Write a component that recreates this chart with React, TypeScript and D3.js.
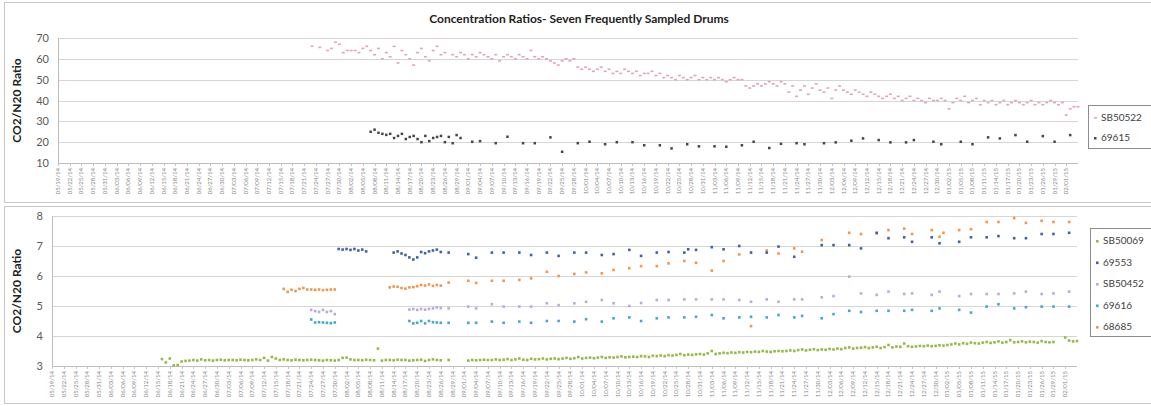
import React, { useRef, useEffect } from "react";
import * as d3 from "d3";

const WIDTH = 1151;
const HEIGHT = 406;
const DAY = 864e5;
const START = Date.UTC(2014, 4, 19); // 05/19/14
const END = Date.UTC(2015, 1, 4);

const title = "Concentration Ratios- Seven Frequently Sampled Drums";
const yTitle = "CO2/N20 Ratio";
const topTicks = [10, 20, 30, 40, 50, 60, 70];
const bottomTicks = [3, 4, 5, 6, 7, 8];

// daily series: first day offset from 05/19/14, then one value per day (null = no sample)
const sb50522Start = 65;
const sb50522 = [
  66, null, 65.5, null, 64, 65, 68, 67, 63, 64,
  64, 64, 63, 65, 66, 64, 62, 65, 60, 63,
  61, 66, 58, 64, 62, 60, 57, 63, 65, 61,
  59, 64, 66, 62, 63, null, 62, 61, 63, 62,
  60, 62, 61, 63, 62, 61, 60, 62, 59, 61,
  62, 61, 60, 62, 61, 60, 64, 61, 60, 61,
  60, 59, 58, 57, 59, 60, 59, 60, 56, 55,
  56, 55, 54, 55, 56, 54, 55, 53, 54, 53,
  55, 54, 53, 54, 52, 53, 53, 54, 52, 53,
  51, 52, 51, 50, 52, 51, 50, 51, 52, 50,
  51, 50, 51, 50, 51, 50, 49, 50, 51, 50,
  50, 47, 46, 47, 48, 47, 48, 49, 48, 47,
  49, 48, 44, 47, 42, 45, 47, 43, 46, 48,
  45, 44, 46, 41, 45, 47, 45, 44, 43, 45,
  44, 43, 42, 44, 43, 42, 41, 42, 43, 41,
  42, 40, 41, 42, 40, 41, 40, 39, 41, 40,
  40, 41, 40, 36, 39, 41, 40, 42, 39, 40,
  41, 38, 40, 39, 40, 38, 39, 40, 38, 39,
  40, 39, 38, 39, 40, 38, 39, 38, 39, 40,
  39, 38, 39, 33, 36, 37, 37,
];

const s69615 = [
  [80, 25], [81, 26], [82, 24.5], [83, 24], [84, 23.5], [85, 24], [86, 22], [87, 23],
  [88, 24], [89, 21.5], [90, 22.5], [91, 23], [92, 21.5], [93, 20], [94, 23], [95, 20.5],
  [96, 22], [97, 22.5], [98, 23], [99, 20], [100, 22.5], [101, 19.5], [102, 23.4], [103, 22],
  [106, 20.2], [108, 20.5], [112, 19.5], [115, 22.6], [119, 19.5], [122, 19.5], [126, 22.3],
  [129, 15.4], [133, 19.5], [136, 20.2], [140, 19], [143, 20], [147, 20], [150, 18.5],
  [154, 18.5], [157, 17], [161, 19], [164, 18], [168, 18], [171, 17.8], [175, 18.5],
  [178, 20.2], [182, 17.2], [185, 19.2], [189, 19.5], [191, 19], [196, 19.5], [199, 19.9],
  [203, 20.7], [206, 21.8], [210, 21], [213, 19.9], [217, 19.9], [219, 21], [224, 20.2],
  [226, 19], [231, 20.2], [234, 19], [238, 22.3], [241, 21.8], [245, 23.4], [248, 20.2],
  [252, 22.9], [255, 20.2], [259, 23.4],
];

const sb50069Start = 28;
const sb50069 = [
  3.23, 3.12, 3.25, 3.02, 3.03, 3.15, 3.17, 3.18, 3.2, 3.18,
  3.22, 3.19, 3.2, 3.18, 3.2, 3.21, 3.19, 3.2, 3.2, 3.19,
  3.21, 3.2, 3.19, 3.2, 3.22, 3.2, 3.27, 3.18, 3.3, 3.25,
  3.2, 3.22, 3.2, 3.19, 3.21, 3.2, 3.19, 3.2, 3.21, 3.2,
  3.19, 3.18, 3.2, 3.19, 3.18, 3.2, 3.27, 3.28, 3.22, 3.2,
  3.2, 3.19, 3.21, 3.2, 3.19, 3.58, 3.18, 3.2, 3.2, 3.19,
  3.21, 3.2, 3.2, 3.18, 3.19, 3.2, 3.21, 3.17, 3.2, 3.22,
  3.2, 3.19, null, 3.2, null, null, null, null, 3.18, 3.2,
  3.19, 3.2, 3.21, 3.2, 3.2, 3.22, 3.2, 3.21, 3.23, 3.2,
  3.22, 3.25, 3.21, 3.2, 3.24, 3.22, 3.23, 3.25, 3.22, 3.24,
  3.25, 3.23, 3.25, 3.27, 3.24, 3.26, 3.3, 3.25, 3.27, 3.28,
  3.26, 3.28, 3.3, 3.27, 3.29, 3.28, 3.3, 3.32, 3.29, 3.3,
  3.31, 3.3, 3.33, 3.32, 3.3, 3.34, 3.33, 3.35, 3.33, 3.36,
  3.35, 3.37, 3.4, 3.36, 3.38, 3.37, 3.39, 3.4, 3.38, 3.42,
  3.5, 3.4, 3.42, 3.44, 3.43, 3.45, 3.44, 3.46, 3.45, 3.47,
  3.46, 3.48, 3.47, 3.5, 3.48, 3.47, 3.49, 3.5, 3.49, 3.5,
  3.52, 3.5, 3.53, 3.55, 3.52, 3.54, 3.56, 3.53, 3.55, 3.54,
  3.57, 3.55, 3.58, 3.56, 3.6, 3.62, 3.58, 3.6, 3.61, 3.63,
  3.6, 3.62, 3.64, 3.6, 3.63, 3.7, 3.62, 3.65, 3.64, 3.75,
  3.66, 3.64, 3.65, 3.67, 3.66, 3.68, 3.66, 3.67, 3.69, 3.68,
  3.7, 3.72, 3.75, 3.72, 3.76, 3.74, 3.78, 3.76, 3.75, 3.78,
  3.8, 3.77, 3.79, 3.82, 3.78, 3.8, 3.86, 3.79, 3.8, 3.82,
  3.79, 3.81, 3.8, 3.78, 3.83, 3.8, 3.79, 3.8, null, null,
  3.95, 3.85, 3.82, 3.83,
];

const s69553 = [
  [73, 6.9], [74, 6.88], [75, 6.9], [76, 6.87], [77, 6.9], [78, 6.85], [79, 6.88], [80, 6.82],
  [87, 6.78], [88, 6.82], [89, 6.75], [90, 6.7], [91, 6.62], [92, 6.55], [93, 6.62], [94, 6.8],
  [95, 6.76], [96, 6.82], [97, 6.85], [98, 6.88], [99, 6.8],
  [101, 6.78], [106, 6.73], [108, 6.61], [112, 6.78], [115, 6.78], [119, 6.78], [122, 6.7],
  [126, 6.78], [129, 6.67], [133, 6.78], [136, 6.78], [140, 6.7], [143, 6.73], [147, 6.87],
  [150, 6.67], [154, 6.78], [157, 6.8], [161, 6.78], [162, 6.89], [164, 6.87], [168, 6.96],
  [171, 6.89], [175, 7.0], [178, 6.78], [182, 6.78], [185, 6.98], [189, 6.64], [196, 7.03],
  [199, 7.03], [203, 7.03], [206, 6.92], [210, 7.44], [213, 7.26], [217, 7.29], [219, 7.14],
  [224, 7.29], [226, 7.09], [231, 7.14], [234, 7.29], [238, 7.29], [241, 7.33], [245, 7.26],
  [248, 7.26], [252, 7.4], [255, 7.4], [259, 7.44],
];

const sb50452 = [
  [66, 4.87], [67, 4.83], [68, 4.8], [69, 4.87], [70, 4.8], [71, 4.83], [72, 4.73],
  [91, 4.88], [92, 4.9], [93, 4.87], [94, 4.9], [95, 4.88], [96, 4.9], [97, 4.92], [98, 4.95],
  [99, 4.93], [101, 4.92], [106, 4.98], [108, 4.92], [112, 5.06], [115, 4.98], [119, 4.98],
  [122, 4.98], [126, 5.09], [129, 5.03], [133, 5.09], [136, 5.14], [140, 5.2], [143, 5.09],
  [147, 5.0], [150, 5.1], [154, 5.2], [157, 5.2], [161, 5.22], [164, 5.22], [168, 5.22],
  [171, 5.22], [175, 5.2], [178, 5.14], [182, 5.22], [185, 5.14], [189, 5.22], [191, 5.22],
  [196, 5.29], [199, 5.33], [203, 5.98], [206, 5.42], [210, 5.37], [213, 5.48], [217, 5.4],
  [219, 5.42], [224, 5.37], [226, 5.48], [231, 5.33], [234, 5.4], [238, 5.4], [241, 5.4],
  [245, 5.42], [248, 5.48], [252, 5.4], [255, 5.42], [259, 5.48],
];

const s69616 = [
  [66, 4.55], [67, 4.45], [68, 4.46], [69, 4.45], [70, 4.44], [71, 4.43], [72, 4.45],
  [91, 4.5], [92, 4.42], [93, 4.44], [94, 4.5], [95, 4.42], [96, 4.5], [97, 4.46], [98, 4.45],
  [99, 4.44], [101, 4.44], [106, 4.44], [108, 4.44], [112, 4.48], [115, 4.44], [119, 4.48],
  [122, 4.44], [126, 4.5], [129, 4.5], [133, 4.48], [136, 4.56], [140, 4.48], [143, 4.59],
  [147, 4.62], [150, 4.5], [154, 4.59], [157, 4.62], [161, 4.62], [164, 4.64], [168, 4.7],
  [171, 4.59], [175, 4.62], [178, 4.64], [182, 4.62], [185, 4.7], [189, 4.62], [191, 4.67],
  [196, 4.59], [199, 4.73], [203, 4.84], [206, 4.8], [210, 4.84], [213, 4.84], [217, 4.84],
  [219, 4.87], [224, 4.84], [226, 4.92], [231, 4.87], [234, 4.78], [238, 4.98], [241, 5.06],
  [245, 4.92], [248, 4.96], [252, 4.98], [255, 4.98], [259, 4.98],
];

const s68685 = [
  [59, 5.57], [60, 5.47], [61, 5.54], [62, 5.5], [63, 5.57], [64, 5.6], [65, 5.55], [66, 5.55],
  [67, 5.54], [68, 5.55], [69, 5.53], [70, 5.54], [71, 5.55], [72, 5.55],
  [86, 5.62], [87, 5.65], [88, 5.64], [89, 5.6], [90, 5.58], [91, 5.62], [92, 5.63], [93, 5.66],
  [94, 5.7], [95, 5.68], [96, 5.72], [97, 5.67], [98, 5.7], [99, 5.68],
  [101, 5.78], [106, 5.84], [108, 5.77], [112, 5.84], [115, 5.84], [119, 5.87], [122, 5.92],
  [126, 6.14], [129, 6.0], [133, 6.07], [136, 6.12], [140, 6.09], [143, 6.2], [147, 6.26],
  [150, 6.33], [154, 6.33], [157, 6.42], [161, 6.5], [164, 6.44], [168, 6.18], [171, 6.5],
  [175, 6.72], [178, 4.33], [182, 6.85], [185, 6.75], [189, 6.92], [191, 6.81], [196, 7.2],
  [203, 7.44], [206, 7.4], [210, 7.42], [213, 7.53], [217, 7.58], [219, 7.4], [224, 7.53],
  [226, 7.31], [227, 7.44], [231, 7.53], [234, 7.56], [238, 7.8], [241, 7.8], [245, 7.93],
  [248, 7.77], [252, 7.84], [255, 7.8], [259, 7.8],
];

const daily = (start, values) =>
  values.map((v, i) => [start + i, v]).filter((d) => d[1] !== null);

const FONT = "Lato, 'Open Sans', sans-serif";

const App = () => {
  const ref = useRef(null);

  useEffect(() => {
    const svg = d3.select(ref.current);
    svg.selectAll("*").remove();

    svg.append("rect").attr("width", WIDTH).attr("height", HEIGHT).attr("fill", "#fff");

    // panel frames
    svg.append("rect").attr("x", 4.5).attr("y", 2.5).attr("width", 1160).attr("height", 200)
      .attr("fill", "none").attr("stroke", "#c8c8c8");
    svg.append("rect").attr("x", 4.5).attr("y", 206.5).attr("width", 1160).attr("height", 197)
      .attr("fill", "none").attr("stroke", "#c8c8c8");

    svg.append("text")
      .attr("x", 579).attr("y", 23)
      .attr("text-anchor", "middle")
      .style("font-family", FONT).style("font-size", "12px").style("font-weight", "bold")
      .style("fill", "#222")
      .text(title);

    const tickDates = d3.utcDay.range(new Date(START), new Date(END - DAY), 3);
    const fmt = d3.utcFormat("%m/%d/%y");
    const toDate = (d) => new Date(START + d * DAY);

    const drawPanel = ({ x0, x1, yTop, yBot, domain, ticks, series, legend, legendBox }) => {
      const x = d3.scaleUtc().domain([new Date(START), new Date(END)]).range([x0, x1]);
      const y = d3.scaleLinear().domain(domain).range([yBot, yTop]);
      const g = svg.append("g");

      // gridlines
      g.selectAll("line.grid").data(ticks).enter().append("line")
        .attr("x1", x0).attr("x2", x1)
        .attr("y1", (d) => Math.round(y(d)) + 0.5).attr("y2", (d) => Math.round(y(d)) + 0.5)
        .attr("stroke", (d) => (d === domain[0] ? "#bdbdbd" : "#d6d6d6"));

      // left axis line
      g.append("line").attr("x1", x0 + 0.5).attr("x2", x0 + 0.5).attr("y1", yTop).attr("y2", yBot)
        .attr("stroke", "#bdbdbd");

      // y tick labels
      g.selectAll("text.yt").data(ticks).enter().append("text")
        .attr("x", x0 - 9).attr("y", (d) => y(d) + 4)
        .attr("text-anchor", "end")
        .style("font-family", FONT).style("font-size", "11px").style("fill", "#595959")
        .text((d) => d);

      // y axis title
      g.append("text")
        .attr("transform", `translate(21,${(yTop + yBot) / 2}) rotate(-90)`)
        .attr("text-anchor", "middle")
        .style("font-family", FONT).style("font-size", "12px").style("font-weight", "bold")
        .style("fill", "#222")
        .text(yTitle);

      // x ticks and labels
      g.selectAll("line.xt").data(tickDates).enter().append("line")
        .attr("x1", (d) => Math.round(x(d)) + 0.5).attr("x2", (d) => Math.round(x(d)) + 0.5)
        .attr("y1", yBot).attr("y2", yBot + 3)
        .attr("stroke", "#c4c4c4");
      g.selectAll("text.xl").data(tickDates).enter().append("text")
        .attr("transform", (d) => `translate(${x(d) + 2},${yBot + 5}) rotate(-90)`)
        .attr("text-anchor", "end")
        .style("font-family", FONT).style("font-size", "6px").style("fill", "#888")
        .text((d) => fmt(d));

      // points
      series.forEach((s) => {
        g.selectAll(null).data(s.data).enter().append("rect")
          .attr("x", (d) => x(toDate(d[0])) - s.w / 2)
          .attr("y", (d) => y(d[1]) - s.h / 2)
          .attr("width", s.w).attr("height", s.h)
          .attr("fill", s.color);
      });

      // legend
      g.append("rect")
        .attr("x", legendBox[0] + 0.5).attr("y", legendBox[1] + 0.5)
        .attr("width", 80).attr("height", legendBox[2])
        .attr("fill", "#fff").attr("stroke", "#8c8c8c");
      legend.forEach((s, i) => {
        const ly = legendBox[1] + legendBox[3] + i * legendBox[4];
        g.append("rect")
          .attr("x", legendBox[0] + 6).attr("y", ly - 4)
          .attr("width", s.w).attr("height", s.h).attr("fill", s.color);
        g.append("text")
          .attr("x", legendBox[0] + 13).attr("y", ly)
          .style("font-family", FONT).style("font-size", "10px").style("fill", "#404040")
          .text(s.name);
      });
    };

    const pink = { name: "SB50522", data: daily(sb50522Start, sb50522), color: "#e3a3b8", w: 3, h: 1.6 };
    const dark = { name: "69615", data: s69615, color: "#44444f", w: 2.5, h: 2.5 };
    drawPanel({
      x0: 58, x1: 1078, yTop: 38, yBot: 163,
      domain: [10, 70], ticks: topTicks,
      series: [pink, dark], legend: [pink, dark],
      legendBox: [1088, 105, 43, 16, 20],
    });

    const green = { name: "SB50069", data: daily(sb50069Start, sb50069), color: "#94b947", w: 2.6, h: 2.6 };
    const navy = { name: "69553", data: s69553, color: "#4262a8", w: 2.6, h: 2.6 };
    const lav = { name: "SB50452", data: sb50452, color: "#b7acd9", w: 2.6, h: 2.6 };
    const teal = { name: "69616", data: s69616, color: "#45a8c9", w: 2.6, h: 2.6 };
    const orange = { name: "68685", data: s68685, color: "#f1964a", w: 2.6, h: 2.6 };
    drawPanel({
      x0: 52, x1: 1077, yTop: 216, yBot: 366,
      domain: [3, 8], ticks: bottomTicks,
      series: [green, orange, lav, teal, navy], legend: [green, navy, lav, teal, orange],
      legendBox: [1090, 228, 108, 16, 21.5],
    });
  }, []);

  return (
    <svg
      ref={ref}
      width={WIDTH}
      height={HEIGHT}
      style={{ position: "absolute", left: 0, top: 0 }}
    />
  );
};

export default App;
